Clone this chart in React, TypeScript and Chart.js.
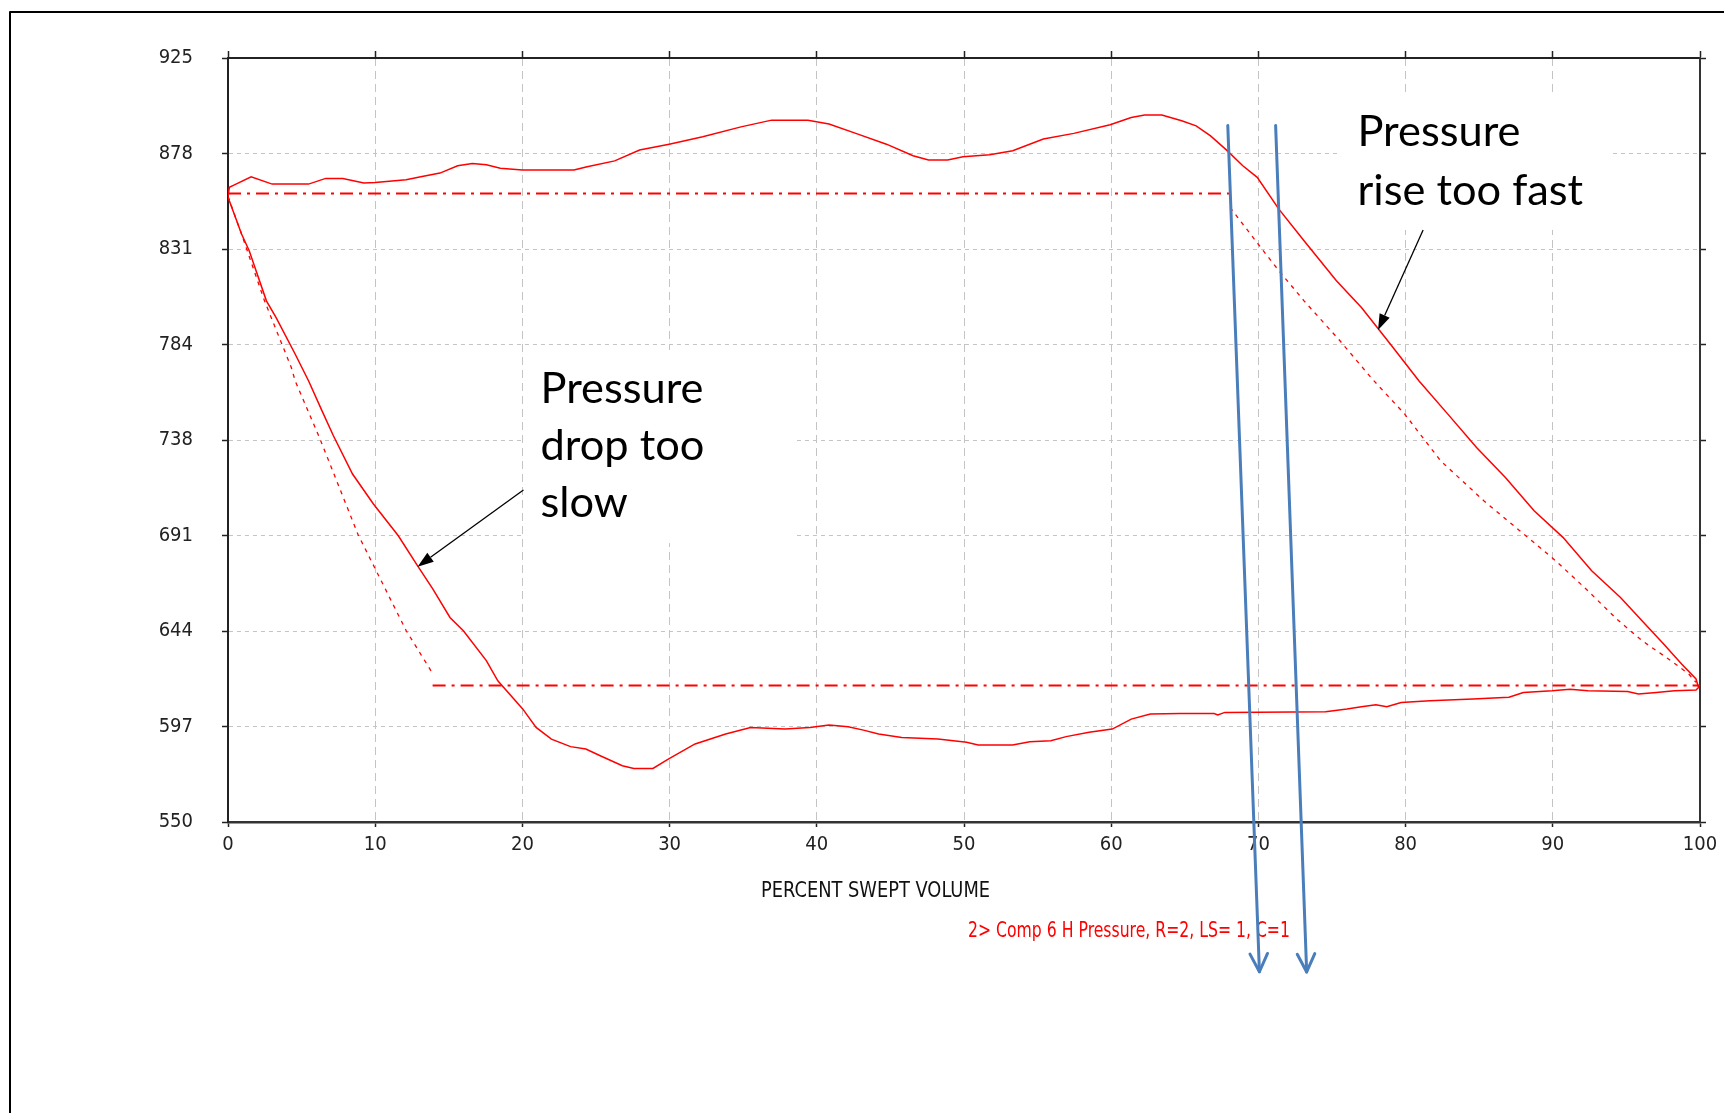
import React, { useEffect, useRef } from 'react';
import { Chart, registerables } from 'chart.js';

Chart.register(...registerables);

// ---------- axis ticks ----------
const xTickLabels = ['0', '10', '20', '30', '40', '50', '60', '70', '80', '90', '100'];
const yTickLabels = ['550', '597', '644', '691', '738', '784', '831', '878', '925'];
const xRange = [0, 100];
const yRange = [550, 925];

// ---------- measured P-V loop (solid) ----------
const measuredX = [
  0, 0.09, 0.4, 1.57, 3.0, 5.47, 6.64, 7.8, 9.23, 10.0, 12.1, 13.1, 14.4, 15.6, 16.6, 17.55, 18.5, 20.0, 23.5, 24.4,
  26.27, 27.96, 29.97, 32.25, 34.85, 36.93, 39.4, 40.83, 42.65, 44.73, 46.54, 47.59, 48.89, 49.93, 51.75, 53.31,
  55.39, 57.46, 59.93, 61.36, 62.27, 63.44, 64.79, 65.77, 66.75, 67.84, 68.94, 69.92, 71.39, 73.1, 75.3, 77.0,
  78.96, 80.9, 82.87, 84.82, 86.78, 88.73, 90.69, 92.64, 94.6, 96.06, 97.53, 98.75, 99.73, 99.9,
  99.73, 98.26, 97.04, 95.82, 95.08, 92.39, 91.17, 89.95, 88.0, 87.02, 84.58, 81.65, 79.7, 78.72, 77.98, 77.0,
  76.02, 74.56, 67.72, 67.24, 66.99, 64.68, 62.66, 61.36, 60.07, 58.5, 56.94, 55.9, 54.47, 53.3, 50.96, 50.18,
  48.23, 45.77, 44.2, 43.17, 42.13, 40.83, 39.53, 37.84, 35.5, 33.81, 31.73, 29.91, 28.87, 27.57, 26.79, 25.29,
  24.31, 23.27, 21.97, 20.93, 20.02, 18.33, 17.55, 15.99, 15.08, 13.92, 12.87, 11.57, 9.88, 8.46, 7.16, 6.38,
  5.47, 4.56, 3.26, 2.61, 1.44, 0.92, 0.09, 0,
];
const measuredY = [
  857, 861.5, 862.6, 866.7, 863.1, 863.1, 865.9, 865.9, 863.6, 863.9, 865.2, 866.7, 868.5, 872.1, 873.2, 872.6, 870.9, 870.0, 870.0, 871.6,
  874.5, 879.8, 882.7, 886.3, 891.2, 894.5, 894.5, 892.6, 888.0, 882.7, 877.0, 874.9, 874.9, 876.5, 877.5, 879.5,
  885.2, 888.0, 892.2, 895.8, 897.0, 897.0, 894.2, 891.7, 886.8, 879.8, 872.1, 866.4, 850.8, 835.3, 815.7, 802.5,
  784.6, 766.6, 750.2, 733.8, 719.1, 702.8, 689.7, 673.3, 660.2, 648.8, 637.4, 627.5, 620.2, 616.0,
  614.8, 614.4, 613.6, 612.8, 614.1, 614.4, 615.2, 614.4, 613.6, 611.2, 610.4, 609.5, 608.7, 606.6, 607.6, 606.6,
  605.5, 604.1, 603.8, 602.5, 603.2, 603.3, 603.0, 600.5, 595.6, 594.0, 591.9, 589.9, 589.4, 587.8, 587.8, 589.1,
  590.7, 591.5, 593.2, 595.1, 596.8, 597.6, 596.4, 595.6, 596.4, 593.2, 588.3, 580.9, 576.3, 576.3, 577.6, 582.5,
  585.8, 587.0, 590.7, 596.4, 605.5, 619.3, 629.2, 643.9, 650.4, 664.3, 675.8, 690.5, 706.1, 720.8, 739.6, 751.9,
  766.6, 779.7, 797.7, 805.8, 830.4, 838.6, 854.9, 857,
];

// ---------- theoretical cycle ----------
const dischargeX = [0, 68];
const dischargeY = [858.5, 858.5];
const suctionX = [13.9, 100];
const suctionY = [617, 617];
const expansionX = [0, 0.9, 2.48, 4.3, 4.56, 6.25, 8.84, 12.1, 13.86];
const expansionY = [857, 839, 805.8, 773.1, 766.6, 738, 691, 644, 623.4];
const compressionX = [68.08, 70.16, 71.39, 73.1, 75.54, 77.74, 79.94, 82.38, 85.31, 87.75, 90.2, 92.15, 94.35, 96.06, 98.02, 99.24, 99.73];
const compressionY = [851.6, 832.0, 820.6, 805.8, 786.2, 767.4, 750.2, 727.3, 707.7, 693.0, 678.2, 665.1, 649.6, 639.0, 629.2, 622.6, 618.5];

// ---------- texts ----------
const xTitle = 'PERCENT SWEPT VOLUME';
const seriesLabel = '2> Comp 6 H Pressure, R=2, LS= 1, C=1';

// annotations (in data units)
const notes = [
  { lines: ['Pressure', 'drop too', 'slow'], box: [20.14, 38.59, 686.9, 781.7], text: [21.23, 755.5], arrow: [20.07, 713.0, 12.88, 675.3], lineHeight: 56.7 },
  { lines: ['Pressure', 'rise too fast'], box: [75.44, 94.05, 840.6, 908.3], text: [76.73, 881.8], arrow: [81.19, 840.6, 78.13, 791.5], lineHeight: 59 },
];
const markerArrows = [
  [67.92, 891.9, 70.07, 476.5],
  [71.17, 891.9, 73.28, 476.4],
];
const xTitlePos = [43.99, 513.3];
const seriesLabelPos = [50.27, 493.7];

const NARROW = "'Liberation Sans Narrow', 'Arial Narrow', 'DejaVu Sans Condensed', 'Liberation Sans', sans-serif";
const NOTE_FONT = "Lato, 'Open Sans', sans-serif";
const RED = '#ff0000';

const toPts = (xs: number[], ys: number[]) => xs.map((x, i) => ({ x, y: ys[i] }));

function fillFitted(ctx: CanvasRenderingContext2D, text: string, x: number, y: number, targetW: number, align: 'left' | 'center') {
  const w = ctx.measureText(text).width;
  const k = targetW / w;
  ctx.save();
  ctx.translate(x, y);
  ctx.scale(k, 1);
  ctx.textAlign = 'left';
  ctx.fillText(text, align === 'center' ? -w / 2 : 0, 0);
  ctx.restore();
}

function filledArrow(ctx: CanvasRenderingContext2D, x0: number, y0: number, x1: number, y1: number) {
  const a = Math.atan2(y1 - y0, x1 - x0);
  const len = 16;
  const half = 5.5;
  const bx = x1 - Math.cos(a) * len;
  const by = y1 - Math.sin(a) * len;
  ctx.beginPath();
  ctx.moveTo(x0, y0);
  ctx.lineTo(bx, by);
  ctx.stroke();
  ctx.beginPath();
  ctx.moveTo(x1, y1);
  ctx.lineTo(bx + Math.sin(a) * half, by - Math.cos(a) * half);
  ctx.lineTo(bx - Math.sin(a) * half, by + Math.cos(a) * half);
  ctx.closePath();
  ctx.fill();
}

function openArrow(ctx: CanvasRenderingContext2D, x0: number, y0: number, x1: number, y1: number) {
  const a = Math.atan2(y1 - y0, x1 - x0);
  const len = 20;
  const spread = (26 * Math.PI) / 180;
  ctx.beginPath();
  ctx.moveTo(x0, y0);
  ctx.lineTo(x1, y1);
  ctx.stroke();
  ctx.beginPath();
  ctx.moveTo(x1 - Math.cos(a - spread) * len, y1 - Math.sin(a - spread) * len);
  ctx.lineTo(x1, y1);
  ctx.lineTo(x1 - Math.cos(a + spread) * len, y1 - Math.sin(a + spread) * len);
  ctx.stroke();
}

const overlayPlugin = {
  id: 'overlay',
  beforeDatasetsDraw(chart: any) {
    const { ctx } = chart;
    const xs = chart.scales.x;
    const ys = chart.scales.y;
    ctx.save();
    ctx.fillStyle = '#ffffff';
    for (const n of notes) {
      const x0 = xs.getPixelForValue(n.box[0]);
      const x1 = xs.getPixelForValue(n.box[1]);
      const y0 = ys.getPixelForValue(n.box[3]);
      const y1 = ys.getPixelForValue(n.box[2]);
      ctx.fillRect(x0, y0, x1 - x0, y1 - y0);
    }
    ctx.restore();
  },
  afterDraw(chart: any) {
    const { ctx } = chart;
    const xs = chart.scales.x;
    const ys = chart.scales.y;
    const px = (v: number) => xs.getPixelForValue(v);
    const py = (v: number) => ys.getPixelForValue(v);
    ctx.save();

    // axis title and series label
    ctx.font = `21px ${NARROW}`;
    ctx.textBaseline = 'alphabetic';
    ctx.fillStyle = '#111111';
    fillFitted(ctx, xTitle, px(xTitlePos[0]), py(xTitlePos[1]), 229, 'center');
    ctx.fillStyle = RED;
    fillFitted(ctx, seriesLabel, px(seriesLabelPos[0]), py(seriesLabelPos[1]), 322, 'left');

    // notes
    ctx.font = `100px ${NOTE_FONT}`;
    const ref = ctx.measureText('Pressure').width;
    const size = (100 * 163) / ref;
    ctx.font = `${size.toFixed(2)}px ${NOTE_FONT}`;
    ctx.fillStyle = '#000000';
    ctx.textAlign = 'left';
    for (const n of notes) {
      const tx = px(n.text[0]);
      const ty = py(n.text[1]);
      n.lines.forEach((line, i) => ctx.fillText(line, tx, ty + i * n.lineHeight));
    }
    ctx.strokeStyle = '#000000';
    ctx.lineWidth = 1.3;
    for (const n of notes) {
      filledArrow(ctx, px(n.arrow[0]), py(n.arrow[1]), px(n.arrow[2]), py(n.arrow[3]));
    }

    // blue marker arrows
    ctx.strokeStyle = '#4a7ebb';
    ctx.lineWidth = 3;
    ctx.lineCap = 'round';
    ctx.lineJoin = 'round';
    for (const m of markerArrows) {
      openArrow(ctx, px(m[0]), py(m[1]), px(m[2]), py(m[3]));
    }

    // slide frame
    ctx.strokeStyle = '#000000';
    ctx.lineWidth = 2;
    ctx.lineCap = 'butt';
    ctx.beginPath();
    ctx.moveTo(10, chart.height + 5);
    ctx.lineTo(10, 12);
    ctx.lineTo(chart.width + 5, 12);
    ctx.stroke();
    ctx.restore();
  },
};

const xTicksFrom = (scale: any) => {
  scale.ticks = xTickLabels.map((_, i) => ({ value: xRange[0] + (i * (xRange[1] - xRange[0])) / (xTickLabels.length - 1) }));
};
const yTicksFrom = (scale: any) => {
  scale.ticks = yTickLabels.map((_, i) => ({ value: yRange[0] + (i * (yRange[1] - yRange[0])) / (yTickLabels.length - 1) }));
};

export default function App() {
  const ref = useRef<HTMLCanvasElement>(null);

  useEffect(() => {
    const tickFont = { family: NARROW, size: 20 };
    const chart = new Chart(ref.current as HTMLCanvasElement, {
      type: 'line',
      data: {
        datasets: [
          { label: 'measured', data: toPts(measuredX, measuredY), borderColor: RED, borderWidth: 1.5, pointRadius: 0, tension: 0, fill: false },
          { label: 'discharge', data: toPts(dischargeX, dischargeY), borderColor: RED, borderWidth: 2, borderDash: [13, 6, 3, 6], pointRadius: 0, fill: false },
          { label: 'suction', data: toPts(suctionX, suctionY), borderColor: RED, borderWidth: 2, borderDash: [13, 6, 3, 6], pointRadius: 0, fill: false },
          { label: 'expansion', data: toPts(expansionX, expansionY), borderColor: RED, borderWidth: 1.3, borderDash: [4, 5], pointRadius: 0, fill: false },
          { label: 'compression', data: toPts(compressionX, compressionY), borderColor: RED, borderWidth: 1.3, borderDash: [4, 5], pointRadius: 0, fill: false },
        ],
      },
      options: {
        animation: false,
        responsive: false,
        events: [],
        layout: { padding: { top: 58, right: 24, bottom: 0, left: 0 } },
        plugins: { legend: { display: false }, tooltip: { enabled: false }, title: { display: false } },
        scales: {
          x: {
            type: 'linear', position: 'bottom', min: xRange[0], max: xRange[1],
            afterBuildTicks: xTicksFrom,
            afterFit: (s: any) => { s.height = 291; },
            ticks: { font: tickFont, color: '#222222', padding: 6, maxRotation: 0, autoSkip: false, callback: (_v: any, i: number) => xTickLabels[i] },
            grid: { color: '#c4c4c4', lineWidth: 1, tickLength: 5, tickColor: '#222222', tickWidth: 1.5 },
            border: { color: '#333333', width: 2.5, dash: [8, 5] },
          },
          x2: {
            type: 'linear', position: 'top', min: xRange[0], max: xRange[1],
            afterBuildTicks: xTicksFrom,
            afterFit: (s: any) => { s.height = 0; },
            ticks: { display: false },
            grid: { drawOnChartArea: false, tickLength: 7, tickColor: '#222222', tickWidth: 1.5 },
            border: { color: '#222222', width: 2 },
          },
          y: {
            type: 'linear', position: 'left', min: yRange[0], max: yRange[1],
            afterBuildTicks: yTicksFrom,
            afterFit: (s: any) => { s.width = 228; },
            ticks: { font: tickFont, color: '#222222', padding: 29, autoSkip: false, callback: (_v: any, i: number) => yTickLabels[i] },
            grid: { color: '#c4c4c4', lineWidth: 1, tickLength: 6, tickColor: '#222222', tickWidth: 1.5 },
            border: { color: '#222222', width: 2, dash: [4, 4] },
          },
          y2: {
            type: 'linear', position: 'right', min: yRange[0], max: yRange[1],
            afterBuildTicks: yTicksFrom,
            afterFit: (s: any) => { s.width = 0; },
            ticks: { display: false },
            grid: { drawOnChartArea: false, tickLength: 6, tickColor: '#222222', tickWidth: 1.5 },
            border: { color: '#333333', width: 2 },
          },
        },
      } as any,
      plugins: [overlayPlugin],
    });
    return () => chart.destroy();
  }, []);

  return (
    <div style={{ position: 'fixed', left: 0, top: 0, width: 1724, height: 1113, background: '#ffffff' }}>
      <canvas ref={ref} width={1724} height={1113} style={{ display: 'block', width: 1724, height: 1113 }} />
    </div>
  );
}
